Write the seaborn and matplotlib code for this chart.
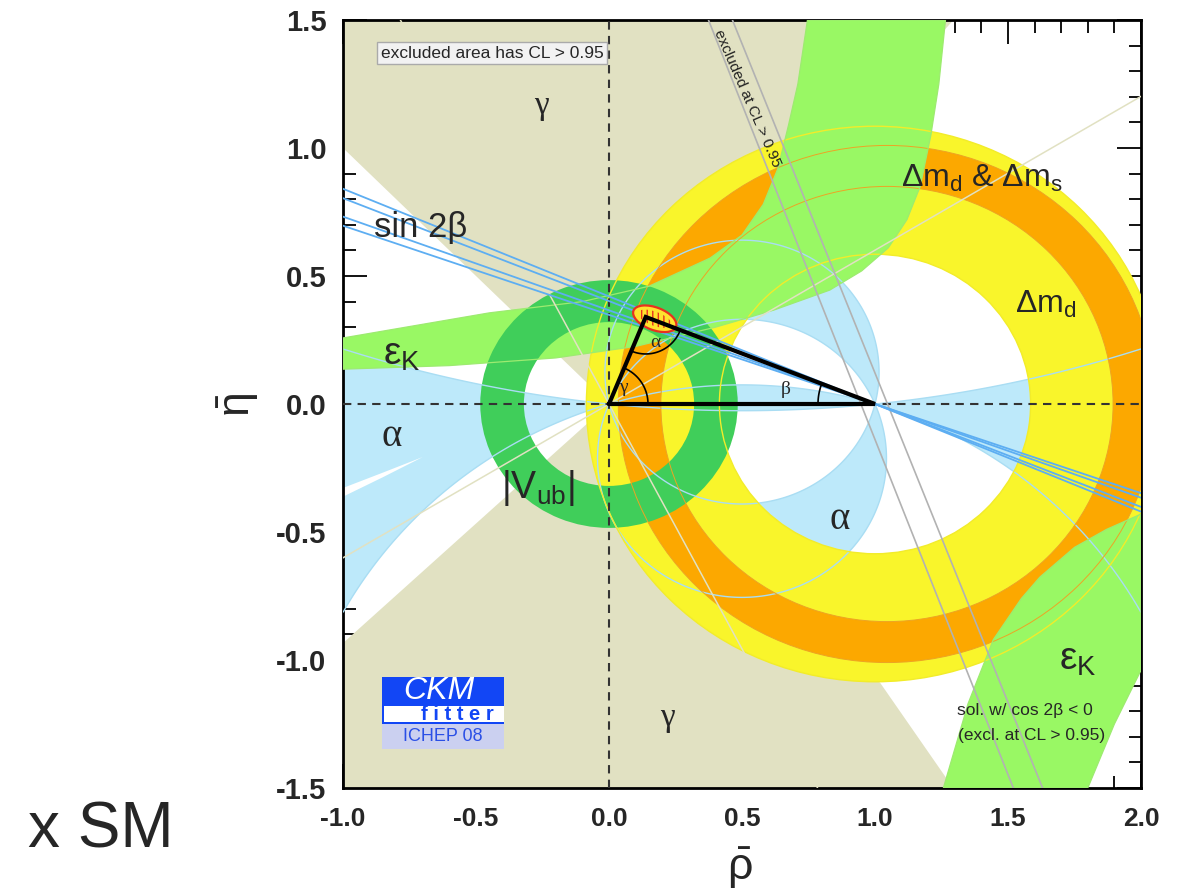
import numpy as np
import pandas as pd
import matplotlib
matplotlib.use("Agg")
import matplotlib.pyplot as plt
from matplotlib.patches import Annulus, Polygon, Ellipse, Rectangle, Circle
import seaborn as sns

# ---------------- values in the (rho-bar, eta-bar) plane ----------------
x_ticks = [-1.0, -0.5, 0.0, 0.5, 1.0, 1.5, 2.0]
x_tick_labels = ["-1.0", "-0.5", "0.0", "0.5", "1.0", "1.5", "2.0"]
y_ticks = [-1.5, -1.0, -0.5, 0.0, 0.5, 1.0, 1.5]
y_tick_labels = ["-1.5", "-1.0", "-0.5", "0.0", "0.5", "1.0", "1.5"]

# |Vub/Vcb| ring around (0,0)
vub_center = (0.0, 0.0)
vub_radii = (0.32, 0.484)
# Delta m_d ring around (1,0)
dmd_center = (1.0, 0.0)
dmd_radii = (0.585, 1.085)
# Delta m_d & Delta m_s ring
dms_center = (1.045, 0.0)
dms_radii = (0.85, 1.01)
# allowed alpha intervals (degrees, defined modulo 180)
alpha_ranges = [(76.0, 113.0), (163.0, 186.0)]
# narrow excluded sliver inside the alpha band on the left
alpha_gap_rho = [-1.0, -0.85, -0.70, -0.85, -1.0]
alpha_gap_eta = [-0.328, -0.268, -0.207, -0.286, -0.362]
# sin 2beta band edges: beta (degrees) of lines through (1,0)
beta_edges = [19.2, 20.1, 21.9, 22.8]
# gamma allowed regions
gamma_up_rho = [0.0, 1.295, -1.0, -1.0]
gamma_up_eta = [0.0, 1.5, 1.5, 1.0]
gamma_dn_rho = [0.0, -1.0, -1.0, 1.294, 1.02]
gamma_dn_eta = [0.0, -0.934, -1.5, -1.5, -1.09]
gamma_edge_deg = [31.0, 117.6]
# epsilon_K : upper branch (lower edge then upper edge) and lower branch
epsk_up_lo_rho = [-1.0, -0.6, -0.2, 0.1, 0.4, 0.62, 0.83, 0.95, 1.05, 1.12, 1.17, 1.21, 1.24, 1.265]
epsk_up_lo_eta = [0.136, 0.15, 0.18, 0.225, 0.30, 0.367, 0.445, 0.52, 0.61, 0.72, 0.85, 1.05, 1.25, 1.5]
epsk_up_hi_rho = [0.746, 0.71, 0.675, 0.635, 0.58, 0.50, 0.38, 0.15, -0.1, -0.45, -1.0]
epsk_up_hi_eta = [1.5, 1.25, 1.09, 0.92, 0.78, 0.66, 0.57, 0.46, 0.40, 0.356, 0.258]
epsk_dn_rho = [1.257, 1.35, 1.445, 1.55, 1.62, 1.75, 1.87, 2.0, 2.0, 1.9, 1.80]
epsk_dn_eta = [-1.5, -1.17, -0.92, -0.76, -0.676, -0.56, -0.49, -0.43, -1.04, -1.25, -1.5]
# lines of the excluded cos 2beta < 0 solution
excl_rho = [[0.374, 1.52], [0.464, 1.63]]
excl_eta = [[1.5, -1.5], [1.5, -1.5]]
# global fit: apex of the unitarity triangle and its 95% CL region
apex = (0.138, 0.340)
fit_center = (0.172, 0.333)
fit_size = (0.172, 0.088)
fit_tilt = -22.0

# ---------------- colours ----------------
c_gamma = "#E1E1C2"
c_alpha = "#BDE9FA"
c_dmd = "#F9F52B"
c_dms = "#FCA800"
c_epsk = "#99F864"
c_vub = "#40CE5A"
c_s2b = "#5DAEF2"

sns.set_theme(style="white")
plt.rcParams["font.family"] = ["Liberation Sans", "DejaVu Sans"]
plt.rcParams["mathtext.fontset"] = "custom"
plt.rcParams["mathtext.rm"] = "Liberation Sans"
plt.rcParams["mathtext.it"] = "Liberation Sans:italic"
plt.rcParams["mathtext.bf"] = "Liberation Sans:bold"

W, H = 1184, 894
fig = plt.figure(figsize=(W / 100, H / 100), dpi=100)
ax = fig.add_axes([343 / W, 106 / H, 798 / W, 768 / H])
ax.set_xlim(-1, 2)
ax.set_ylim(-1.5, 1.5)
ax.set_facecolor("white")
px_x, px_y = 798 / 3.0, 768 / 3.0  # pixels per unit

# gamma
for xs, ys in [(gamma_up_rho, gamma_up_eta), (gamma_dn_rho, gamma_dn_eta)]:
    ax.add_patch(Polygon(np.column_stack([xs, ys]), closed=True, fc=c_gamma, ec="none", zorder=1))

# alpha from the angle at the apex
rg = np.linspace(-1, 2, 1200)
eg = np.linspace(-1.5, 1.5, 1200)
R, E = np.meshgrid(rg, eg)
alpha = np.angle((1 - R) - 1j * E) - np.angle((-R) - 1j * E)
for lo, hi in alpha_ranges:
    c = np.radians(0.5 * (lo + hi))
    thr = np.cos(np.radians(hi - lo))
    f = np.cos(2 * (alpha - c))
    ax.contourf(R, E, f, levels=[thr, 2.0], colors=[c_alpha], zorder=2, antialiased=True)
ax.add_patch(Polygon(np.column_stack([alpha_gap_rho, alpha_gap_eta]), closed=True,
                     fc="white", ec="none", zorder=2.5))

# mixing rings
ax.add_patch(Annulus(dmd_center, dmd_radii[1], dmd_radii[1] - dmd_radii[0], fc=c_dmd, ec="none", zorder=3))
ax.add_patch(Annulus(dms_center, dms_radii[1], dms_radii[1] - dms_radii[0], fc=c_dms, ec="none", zorder=4))

# epsilon_K
epsk_up = np.column_stack([epsk_up_lo_rho + epsk_up_hi_rho, epsk_up_lo_eta + epsk_up_hi_eta])
epsk_dn = np.column_stack([epsk_dn_rho, epsk_dn_eta])
for pts in (epsk_up, epsk_dn):
    ax.add_patch(Polygon(pts, closed=True, fc=c_epsk, ec="none", zorder=5))

# |Vub|
ax.add_patch(Annulus(vub_center, vub_radii[1], vub_radii[1] - vub_radii[0], fc=c_vub, ec="none", zorder=6))

# thin outlines of each constraint
for lo, hi in alpha_ranges:
    c = np.radians(0.5 * (lo + hi))
    thr = np.cos(np.radians(hi - lo))
    f = np.cos(2 * (alpha - c))
    ax.contour(R, E, f, levels=[thr], colors=["#A9DDF3"], linewidths=1.0, zorder=7)
for r in dmd_radii:
    ax.add_patch(Circle(dmd_center, r, fill=False, ec="#F2EC2A", lw=1.0, zorder=7))
for r in dms_radii:
    ax.add_patch(Circle(dms_center, r, fill=False, ec="#EDA424", lw=0.7, zorder=7))
for pts in (epsk_up, epsk_dn):
    ax.add_patch(Polygon(pts, closed=True, fill=False, ec="#9DEB70", lw=0.9, zorder=7))
for g in gamma_edge_deg:
    gr = np.radians(g)
    ax.plot([-3 * np.cos(gr), 3 * np.cos(gr)], [-3 * np.sin(gr), 3 * np.sin(gr)],
            color=c_gamma, lw=1.1, zorder=7)

# dashed axes through the origin
ax.axhline(0, color="#333333", lw=1.5, ls=(0, (4, 3)), zorder=8)
ax.axvline(0, color="#333333", lw=1.5, ls=(0, (4, 3)), zorder=8)

# excluded second sin 2beta solution
for xs, ys in zip(excl_rho, excl_eta):
    ax.plot(xs, ys, color="#B2B2B2", lw=1.2, zorder=8)
ax.text(0.521, 1.195, "excluded at CL > 0.95", rotation=-66.5, rotation_mode="anchor",
        ha="center", va="center", fontsize=11, color="#222222", zorder=8)

# sin 2beta
rows = []
for b in beta_edges:
    for r in (-1.0, 2.0):
        rows.append({"rho": r, "eta": np.tan(np.radians(b)) * (1 - r), "edge": b})
s2b = pd.DataFrame(rows)
sns.lineplot(data=s2b, x="rho", y="eta", units="edge", estimator=None, sort=False,
             color=c_s2b, lw=1.3, ax=ax, zorder=9, legend=False)

# global fit region
ax.add_patch(Ellipse(fit_center, fit_size[0], fit_size[1], angle=fit_tilt,
                     fc="#FFE22E", ec="#E8321E", lw=1.6, zorder=10))
ax.add_patch(Ellipse(fit_center, fit_size[0] * 0.78, fit_size[1] * 0.62, angle=fit_tilt,
                     fc="none", ec="#E8321E", lw=0, hatch="|||", zorder=10))

# unitarity triangle
tri = np.array([[0, 0], [1, 0], list(apex), [0, 0]])
ax.plot(tri[:, 0], tri[:, 1], color="black", lw=3, zorder=11, solid_joinstyle="miter")


def arc(center, r_px, a1, a2):
    th = np.radians(np.linspace(a1, a2, 60))
    ax.plot(center[0] + r_px * np.cos(th) / px_x, center[1] + r_px * np.sin(th) / px_y,
            color="black", lw=1.2, zorder=11)


def disp_angle(p, q):
    return np.degrees(np.arctan2((q[1] - p[1]) * px_y, (q[0] - p[0]) * px_x))


arc((0, 0), 39, 0, disp_angle((0, 0), apex))
arc(apex, 37, disp_angle(apex, (1, 0)), disp_angle(apex, (0, 0)))
arc((1, 0), 57, disp_angle((1, 0), apex), 180)
serif = ["Liberation Serif", "DejaVu Serif"]
ax.text(0.055, 0.066, "γ", family=serif, fontsize=14, ha="center", va="center", zorder=12)
ax.text(0.175, 0.24, "α", family=serif, fontsize=14, ha="center", va="center", zorder=12)
ax.text(0.664, 0.055, "β", family=serif, fontsize=14, ha="center", va="center", zorder=12)

# constraint labels
ax.text(-0.256, 1.164, "γ", family=serif, fontsize=24, ha="center", va="center", zorder=12)
ax.text(0.22, -1.227, "γ", family=serif, fontsize=24, ha="center", va="center", zorder=12)
ax.text(-0.816, -0.125, "α", family=serif, fontsize=28, ha="center", va="center", zorder=12)
ax.text(0.866, -0.453, "α", family=serif, fontsize=28, ha="center", va="center", zorder=12)
ax.text(-0.707, 0.69, "sin 2β", fontsize=25, ha="center", va="center", zorder=12)
ax.text(-0.85, 0.19, r"$\mathrm{\varepsilon_K}$", fontsize=28, ha="left", va="center", zorder=12)
ax.text(1.69, -1.0, r"$\mathrm{\varepsilon_K}$", fontsize=28, ha="left", va="center", zorder=12)
ax.text(-0.268, -0.33, r"$|\mathrm{V_{ub}}|$", fontsize=27, ha="center", va="center", zorder=12)
ax.text(1.40, 0.88, r"$\Delta\mathrm{m_d}$ & $\Delta\mathrm{m_s}$", fontsize=23, ha="center", va="center", zorder=12)
ax.text(1.64, 0.39, r"$\Delta\mathrm{m_d}$", fontsize=23, ha="center", va="center", zorder=12)
ax.text(1.565, -1.199, "sol. w/ cos 2β < 0", fontsize=12.5, ha="center", va="center", zorder=12)
ax.text(1.587, -1.293, "(excl. at CL > 0.95)", fontsize=12.5, ha="center", va="center", zorder=12)
ax.text(-0.44, 1.371, "excluded area has CL > 0.95", fontsize=12.5, ha="center", va="center", zorder=12,
        bbox=dict(boxstyle="square,pad=0.22", fc="#F2F2F2", ec="#AAAAAA", lw=1))

# CKMfitter logo
ax.add_patch(Rectangle((-0.854, -1.25), 0.459, 0.184, fc="#1246F5", ec="none", zorder=12))
ax.add_patch(Rectangle((-0.846, -1.243), 0.451, 0.063, fc="white", ec="none", zorder=12))
ax.add_patch(Rectangle((-0.854, -1.348), 0.459, 0.098, fc="#CBD0F0", ec="none", zorder=12))
ax.text(-0.64, -1.123, "CKM", color="white", fontsize=23, style="italic", ha="center", va="center", zorder=13)
ax.text(-0.57, -1.213, "f i t t e r", color="#1246F5", fontsize=14.5, weight="bold", ha="center", va="center", zorder=13)
ax.text(-0.624, -1.30, "ICHEP 08", color="#2A4FE6", fontsize=13, ha="center", va="center", zorder=13)

# frame and ticks
for s in ax.spines.values():
    s.set_visible(True)
    s.set_color("black")
    s.set_linewidth(2)
ax.set_xticks(x_ticks)
ax.set_xticklabels(x_tick_labels, fontweight="bold", fontsize=19)
ax.set_yticks(y_ticks)
ax.set_yticklabels(y_tick_labels, fontweight="bold", fontsize=21)
ax.set_xticks(np.arange(-1.0, 2.001, 0.1), minor=True)
ax.set_yticks(np.arange(-1.5, 1.501, 0.1), minor=True)
ax.tick_params(which="major", direction="in", length=17, width=1.3, top=True, right=True,
               bottom=True, left=True, color="black")
ax.tick_params(axis="x", which="major", pad=14)
ax.tick_params(axis="y", which="major", pad=12)
ax.tick_params(which="minor", direction="in", length=9, width=1.3, top=True, right=True,
               bottom=True, left=True, color="black")
ax.set_xlabel("")
ax.set_ylabel("")
for tk in ax.get_xticklines() + ax.get_yticklines():
    tk.set_zorder(20)

fig.text(740 / W, 1 - 868 / H, r"$\mathrm{\bar{\rho}}$", fontsize=32, ha="center", va="center")
fig.text(238 / W, 1 - 405 / H, r"$\mathrm{\bar{\eta}}$", fontsize=32, ha="center", va="center", rotation=90)
fig.text(28 / W, 1 - 830 / H, "x SM", fontsize=46, ha="left", va="center")

fig.savefig("out.png", dpi=100)
